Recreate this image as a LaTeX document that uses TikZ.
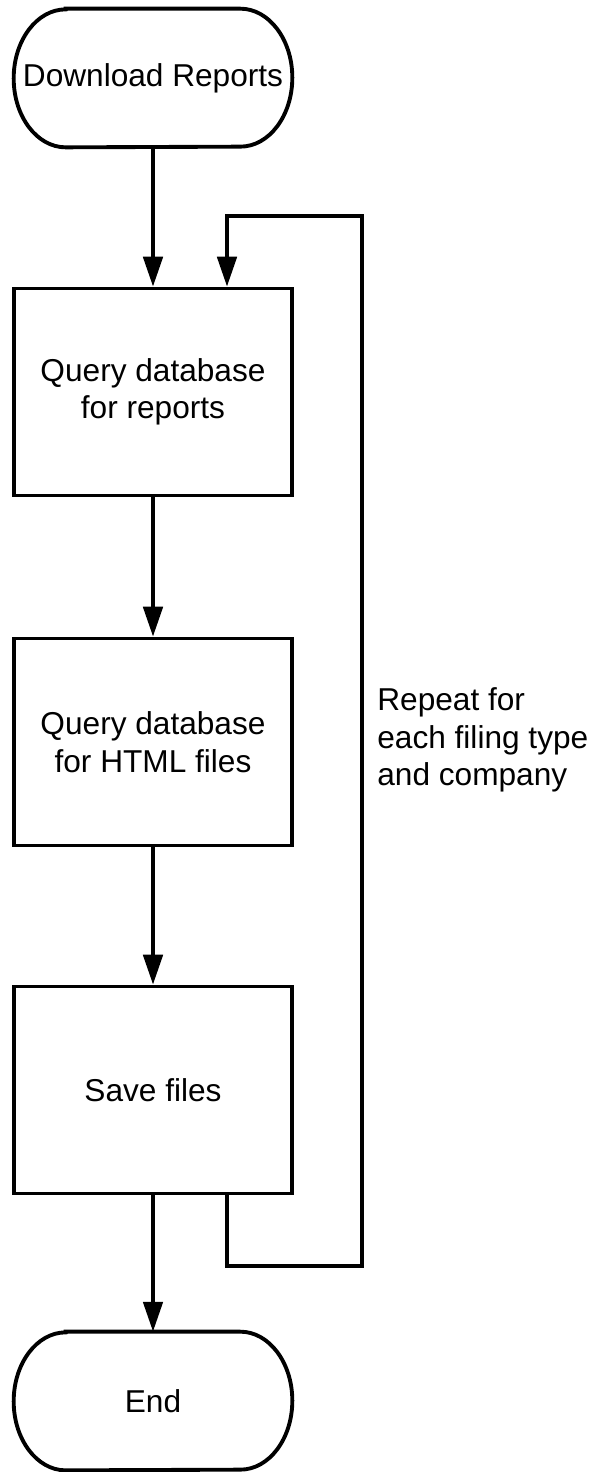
\documentclass[tikz,border=0pt]{standalone}
\usepackage{fontspec}
\setmainfont{Liberation Sans}
\usetikzlibrary{arrows.meta}
\begin{document}
\begin{tikzpicture}[x=0.02cm, y=-0.02cm,
    every node/.style={font=\fontsize{18}{21.3}\selectfont},
    terminal/.style={minimum width=5.56cm, minimum height=2.76cm, align=center},
    process/.style={draw, line width=2.2pt, minimum width=5.56cm, minimum height=4.14cm, align=center},
    flow/.style={line width=2.2pt, -{Triangle[length=17pt, width=11pt]}}]
    \useasboundingbox (0,0) rectangle (590,1472);

    % Nodes
    \node[terminal] (start) at (153, 78) {Download Reports};
    \node[process] (query) at (153, 392) {Query database\\for reports};
    \node[process] (html) at (153, 742) {Query database\\for HTML files};
    \node[process] (save) at (153, 1090) {Save files};
    \node[terminal] (end) at (153, 1401) {End};
    \node[anchor=west, align=left, inner sep=0pt] (repeat) at (377, 740) {Repeat for\\each filing type\\and company};
    \coordinate (loopbot) at (362, 1266);
    \coordinate (looptop) at (227, 216);

    % Terminal outlines
    \foreach \n in {start, end}
        \draw[line width=2.2pt] ([xshift=1.04cm]\n.north west) -- ([xshift=-1.04cm]\n.north east)
            arc[start angle=90, end angle=-90, x radius=1.04cm, y radius=1.38cm]
            -- ([xshift=1.04cm]\n.south west)
            arc[start angle=270, end angle=90, x radius=1.04cm, y radius=1.38cm] -- cycle;

    % Edges
    \draw[flow] (start) -- (query);
    \draw[flow] (query) -- (html);
    \draw[flow] (html) -- (save);
    \draw[flow] (save) -- (end);
    \draw[flow] (save.south -| looptop) |- (loopbot) |- (looptop) -- (query.north -| looptop);
\end{tikzpicture}
\end{document}
